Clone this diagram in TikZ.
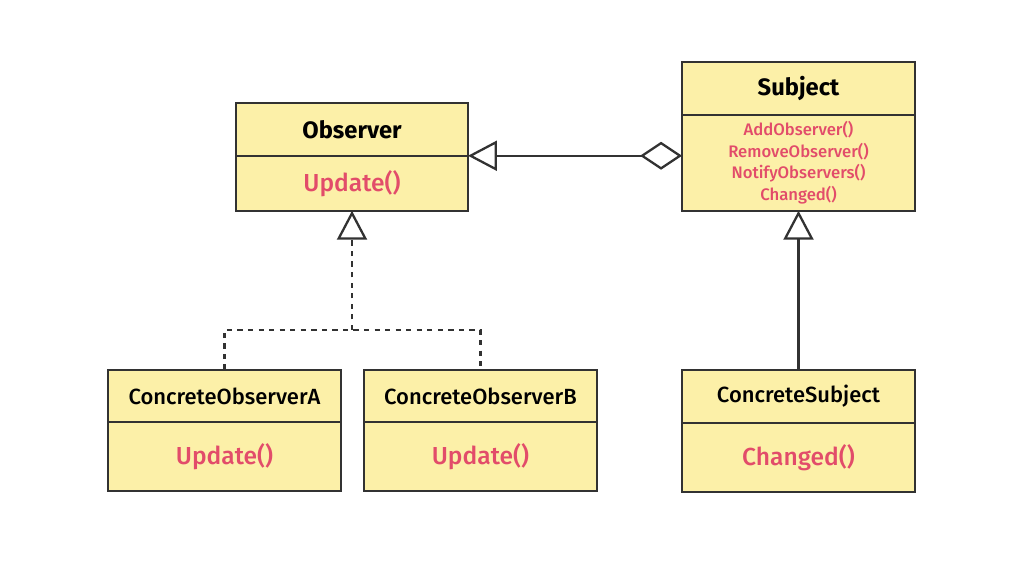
\documentclass[tikz,border=0pt]{standalone}
\usepackage{fontspec}
\setmainfont{Fira Sans}
\newfontfamily\medfont{Fira Sans Medium}
\usetikzlibrary{positioning,arrows.meta}
\definecolor{classfill}{RGB}{252,240,168}
\definecolor{opcolor}{RGB}{226,76,106}
\definecolor{edgegray}{RGB}{50,50,50}

\begin{document}
\begin{tikzpicture}[x=0.02cm,y=-0.02cm,line width=1.3pt,
  classname/.style={draw=edgegray,fill=classfill,inner sep=0pt,outer sep=0pt,minimum width=4.66cm,minimum height=1.05cm,font=\fontsize{12}{14}\selectfont\bfseries},
  classops/.style={draw=edgegray,fill=classfill,inner sep=0pt,outer sep=0pt,minimum width=4.66cm,text=opcolor,align=center},
  inherit/.style={-{Triangle[open,fill=white,length=0.58cm,width=0.6cm]}},
  aggr/.style={{Diamond[open,fill=white,length=0.84cm,width=0.56cm]}-{Triangle[open,fill=white,length=0.58cm,width=0.6cm]}}]

  \useasboundingbox (0,0) rectangle (1024,569);

  % abstract observer
  \node[classname,minimum width=4.64cm,font=\fontsize{13.5}{15}\selectfont\bfseries] (obs) at (352,129.5) {Observer};
  \node[classops,minimum width=4.64cm,minimum height=1.1cm,below=0pt of obs,font=\fontsize{14}{16}\medfont] (obsops) {Update()};

  % subject with its operations
  \node[classname,font=\fontsize{13.5}{15}\selectfont\bfseries] (subj) at (798.5,88.5) {Subject};
  \node[classops,minimum height=1.92cm,below=0pt of subj,font=\fontsize{9.5}{12.4}\medfont] (subjops)
    {AddObserver()\\RemoveObserver()\\NotifyObservers()\\Changed()};

  % concrete observers
  \node[classname,font=\fontsize{12.5}{14}\medfont] (coa) at (224.5,396) {ConcreteObserverA};
  \node[classops,minimum height=1.38cm,below=0pt of coa,font=\fontsize{14}{16}\medfont] (coaops) {Update()};
  \node[classname,font=\fontsize{12.5}{14}\medfont,right=0.46cm of coa] (cob) {ConcreteObserverB};
  \node[classops,minimum height=1.38cm,below=0pt of cob,font=\fontsize{14}{16}\medfont] (cobops) {Update()};

  % concrete subject
  \node[classname,font=\fontsize{12.5}{14}\medfont] (csubj) at (798.5,396.5) {ConcreteSubject};
  \node[classops,minimum height=1.38cm,below=0pt of csubj,font=\fontsize{14}{16}\medfont] (csubjops) {Changed()};

  % subject holds observers
  \draw[aggr,edgegray] (subjops.west |- obs.south east) -- (obs.south east);

  % observers realize the interface
  \coordinate (junc) at (352,330);
  \draw[dashed,edgegray] (coa.north) |- (junc) -| (cob.north);
  \draw[inherit,dashed,edgegray] (junc) -- (obsops.south);

  % concrete subject extends subject
  \draw[inherit,edgegray] (csubj.north) -- (subjops.south);

\end{tikzpicture}
\end{document}
